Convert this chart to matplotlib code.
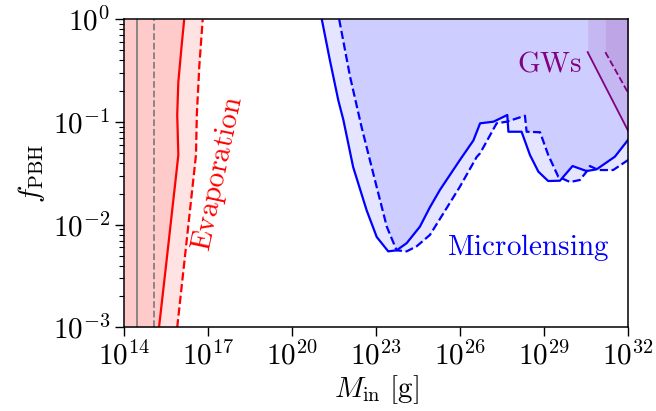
import numpy as np
import matplotlib
matplotlib.use("Agg")
import matplotlib.pyplot as plt
from matplotlib.ticker import LogLocator, FuncFormatter, NullLocator

plt.rcParams['mathtext.fontset'] = 'cm'

# values, as log10(M/g) and log10(f_PBH)
# evaporation bound (solid and dashed)
evap_logm = [15.25, 15.50, 15.70, 15.86, 15.94, 15.90, 15.94, 16.06, 16.15]
evap_logf = [-3.0, -2.4, -1.91, -1.52, -1.32, -0.93, -0.61, -0.25, 0.0]
evap2_logm = [15.90, 16.10, 16.30, 16.57, 16.60, 16.69, 16.81]
evap2_logf = [-3.0, -2.5, -2.0, -1.32, -0.93, -0.45, 0.0]

# gray reference masses
gray_solid_logm = 14.46
gray_dash_logm = 15.08

# microlensing bound (solid)
ml_logm = [21.06, 21.35, 21.65, 21.83, 22.18, 22.66, 23.02, 23.43, 23.73, 24.09,
           24.56, 24.92, 25.28, 25.99, 26.47, 26.71, 27.19, 27.68, 27.72, 28.19,
           28.49, 28.79, 29.14, 29.56, 30.01, 30.51, 30.87, 31.52, 31.94, 32.0]
ml_logf = [0.0, -0.40, -0.79, -0.98, -1.44, -1.86, -2.12, -2.26, -2.25, -2.18,
           -2.02, -1.83, -1.66, -1.37, -1.18, -1.013, -0.997, -0.932, -1.095, -1.095,
           -1.322, -1.484, -1.575, -1.572, -1.429, -1.478, -1.461, -1.338, -1.192, -1.17]

# microlensing bound (dashed)
ml2_logm = [21.68, 22.07, 22.48, 22.96, 23.38, 23.73, 24.09, 24.45, 24.92, 25.40,
            25.99, 26.59, 26.71, 27.30, 27.66, 28.31, 28.37, 28.85, 29.14, 29.50,
            29.92, 30.27, 30.51, 30.63, 30.93, 31.46, 31.94, 32.0]
ml2_logf = [0.0, -0.56, -1.05, -1.57, -2.02, -2.25, -2.26, -2.21, -2.10, -1.89,
            -1.63, -1.34, -1.305, -1.013, -0.997, -0.939, -1.095, -1.10, -1.32, -1.533,
            -1.585, -1.565, -1.484, -1.429, -1.468, -1.468, -1.38, -1.37]

# gravitational-wave bound
gw_logm = [30.55, 32.0]
gw_logf = [-0.32, -1.09]
gw2_logm = [31.18, 32.0]
gw2_logf = [-0.32, -0.72]

xticks_exp = [14, 17, 20, 23, 26, 29, 32]

fig = plt.figure(figsize=(6.56, 4.11), dpi=100)
ax = fig.add_axes([0.189, 0.2036, 0.7688, 0.7494])
ax.set_xscale('log')
ax.set_yscale('log')
ax.set_xlim(1e14, 1e32)
ax.set_ylim(1e-3, 1)

def to_lin(a):
    return 10.0 ** np.array(a)

# evaporation
ax.fill_betweenx(to_lin(evap_logf), 1e14, to_lin(evap_logm), color='red', alpha=0.11, lw=0)
ax.fill_betweenx(to_lin(evap2_logf), 1e14, to_lin(evap2_logm), color='red', alpha=0.11, lw=0)
ax.plot(to_lin(evap_logm), to_lin(evap_logf), color='red', lw=1.6)
ax.plot(to_lin(evap2_logm), to_lin(evap2_logf), color='red', lw=1.6, ls='--')
ax.axvline(10 ** gray_solid_logm, color='gray', lw=1.3)
ax.axvline(10 ** gray_dash_logm, color='gray', lw=1.3, ls='--')

# microlensing
ax.fill_between(to_lin(ml_logm), to_lin(ml_logf), 1, color='blue', alpha=0.1, lw=0)
ax.fill_between(to_lin(ml2_logm), to_lin(ml2_logf), 1, color='blue', alpha=0.1, lw=0)
ax.plot(to_lin(ml_logm), to_lin(ml_logf), color='blue', lw=1.6)
ax.plot(to_lin(ml2_logm), to_lin(ml2_logf), color='blue', lw=1.6, ls='--')

# GWs
ax.fill_between(to_lin(gw_logm), to_lin(gw_logf), 1, color='purple', alpha=0.1, lw=0)
ax.fill_between(to_lin(gw2_logm), to_lin(gw2_logf), 1, color='purple', alpha=0.1, lw=0)
ax.plot(to_lin(gw_logm), to_lin(gw_logf), color='purple', lw=1.3)
ax.plot(to_lin(gw2_logm), to_lin(gw2_logf), color='purple', lw=1.3, ls='--')

ax.text(10 ** 17.37, 10 ** -1.5, r'$\mathrm{Evaporation}$', color='red', fontsize=21,
        rotation=78, ha='center', va='center')
ax.text(10 ** 28.44, 10 ** -2.22, r'$\mathrm{Microlensing}$', color='blue', fontsize=21,
        ha='center', va='center')
ax.text(10 ** 29.19, 10 ** -0.43, r'$\mathrm{GWs}$', color='purple', fontsize=21,
        ha='center', va='center')

ax.set_xticks([10.0 ** e for e in xticks_exp])
ax.xaxis.set_minor_locator(NullLocator())
ax.yaxis.set_major_locator(LogLocator(base=10, numticks=10))
ax.yaxis.set_minor_locator(LogLocator(base=10, subs=np.arange(2, 10), numticks=10))
fmt = FuncFormatter(lambda v, p: r'$10^{%d}$' % int(round(np.log10(v))))
ax.xaxis.set_major_formatter(fmt)
ax.yaxis.set_major_formatter(fmt)
ax.tick_params(which='major', labelsize=21, length=6.5, width=1)
ax.tick_params(which='minor', length=3.5, width=0.8)
for s in ax.spines.values():
    s.set_linewidth(1.1)

ax.set_xlabel(r'$M_{\rm in}\ [{\rm g}]$', fontsize=21, labelpad=2)
ax.set_ylabel(r'$f_{\rm PBH}$', fontsize=21, labelpad=4)

fig.savefig('out.png', dpi=100)
